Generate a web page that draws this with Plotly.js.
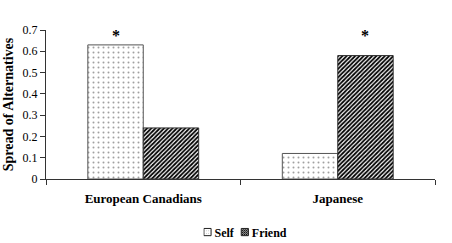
<!DOCTYPE html>
<html>
<head>
<meta charset="utf-8">
<script src="https://cdn.plot.ly/plotly-3.0.1.min.js"></script>
<style>
  html, body { margin: 0; padding: 0; background: #fff; }
  #chart { width: 452px; height: 243px; }
</style>
</head>
<body>
<div id="chart"></div>
<script>
// Spread of alternatives by cultural group and target
const groups = ['European Canadians', 'Japanese'];
const selfValues = [0.63, 0.12];
const friendValues = [0.24, 0.58];
const seriesNames = ['Self', 'Friend'];
// significance markers: [group index, series index]
const significant = [[0, 0], [1, 1]];

const serif = 'Liberation Serif, Times New Roman, serif';
const bargap = 0.43;
const margin = {l: 46, r: 17, t: 30, b: 64};
const plotWidth = 452 - margin.l - margin.r;
const barPx = (plotWidth / groups.length) * (1 - bargap) / 2;

const traces = [
  {
    type: 'bar', name: seriesNames[0], x: groups, y: selfValues,
    marker: {
      color: '#ffffff',
      line: {color: '#555555', width: 1},
      pattern: {shape: '.', fgcolor: '#a0a0a0', bgcolor: '#ffffff', size: 5, solidity: 0.12}
    }
  },
  {
    type: 'bar', name: seriesNames[1], x: groups, y: friendValues,
    marker: {
      color: '#000000',
      line: {color: '#333333', width: 1},
      pattern: {shape: '/', fgcolor: '#000000', bgcolor: '#ffffff', size: 3, solidity: 0.6}
    }
  }
];

const annotations = significant.map(([g, s]) => ({
  x: groups[g], y: 0.675, xref: 'x', yref: 'y',
  text: '*', showarrow: false,
  xshift: (s === 0 ? -1 : 1) * barPx / 2,
  font: {family: serif, size: 16, color: '#000000', weight: 'bold'},
  yanchor: 'middle'
}));

const layout = {
  width: 452, height: 243,
  margin: margin,
  paper_bgcolor: '#fff', plot_bgcolor: '#fff',
  barmode: 'group', bargap: bargap, bargroupgap: 0,
  showlegend: true,
  legend: {
    orientation: 'h', x: 0.5, xanchor: 'center',
    yref: 'container', y: 0.045, yanchor: 'middle',
    font: {family: serif, size: 12, color: '#000', weight: 'bold'},
    itemwidth: 30, tracegroupgap: 0
  },
  xaxis: {
    type: 'category',
    showline: true, linecolor: '#333', linewidth: 1,
    ticks: 'outside', tickson: 'boundaries', ticklen: 5, tickcolor: '#333',
    ticklabelstandoff: 7,
    tickfont: {family: serif, size: 13, color: '#000', weight: 'bold'},
    showgrid: false, zeroline: false, fixedrange: true
  },
  yaxis: {
    range: [0, 0.7], dtick: 0.1,
    showline: true, linecolor: '#333', linewidth: 1,
    ticks: 'outside', ticklen: 5, tickcolor: '#333',
    tickfont: {family: serif, size: 12, color: '#000'},
    showgrid: false, zeroline: false,
    title: {text: 'Spread of Alternatives', standoff: 5,
            font: {family: serif, size: 14, color: '#000', weight: 'bold'}}
  },
  annotations: annotations
};

// Compact legend: small swatches right next to their labels
const legendCenterX = 245;
function compactLegend(gd) {
  const items = gd.querySelectorAll('.legend .traces');
  let x = 0;
  items.forEach(item => {
    const sym = item.querySelector('.legendpoints path');
    if (sym) {
      sym.setAttribute('transform', 'translate(4,0) scale(0.6)');
      sym.style.vectorEffect = 'non-scaling-stroke';
      sym.style.stroke = '#222';
      sym.style.strokeWidth = '1px';
    }
    const txt = item.querySelector('.legendtext');
    if (txt) txt.setAttribute('x', 11);
    const tr = item.getAttribute('transform') || '';
    const m = tr.match(/translate\(([-\d.]+)[ ,]+([-\d.]+)\)/);
    const y = m ? m[2] : 0;
    item.setAttribute('transform', 'translate(' + x + ',' + y + ')');
    const w = txt ? txt.getComputedTextLength() : 20;
    x += 11 + w + 7;
  });
  const legend = gd.querySelector('.legend');
  if (legend) {
    const tr = legend.getAttribute('transform');
    const m = tr.match(/translate\(([-\d.]+)[ ,]+([-\d.]+)\)/);
    const total = x - 7;
    legend.setAttribute('transform', 'translate(' + (legendCenterX - total / 2) + ',' + m[2] + ')');
    const bg = legend.querySelector('.bg');
    if (bg) bg.setAttribute('width', 0);
  }
}

Plotly.newPlot('chart', traces, layout, {staticPlot: true, displayModeBar: false})
  .then(gd => compactLegend(gd));
</script>
</body>
</html>
